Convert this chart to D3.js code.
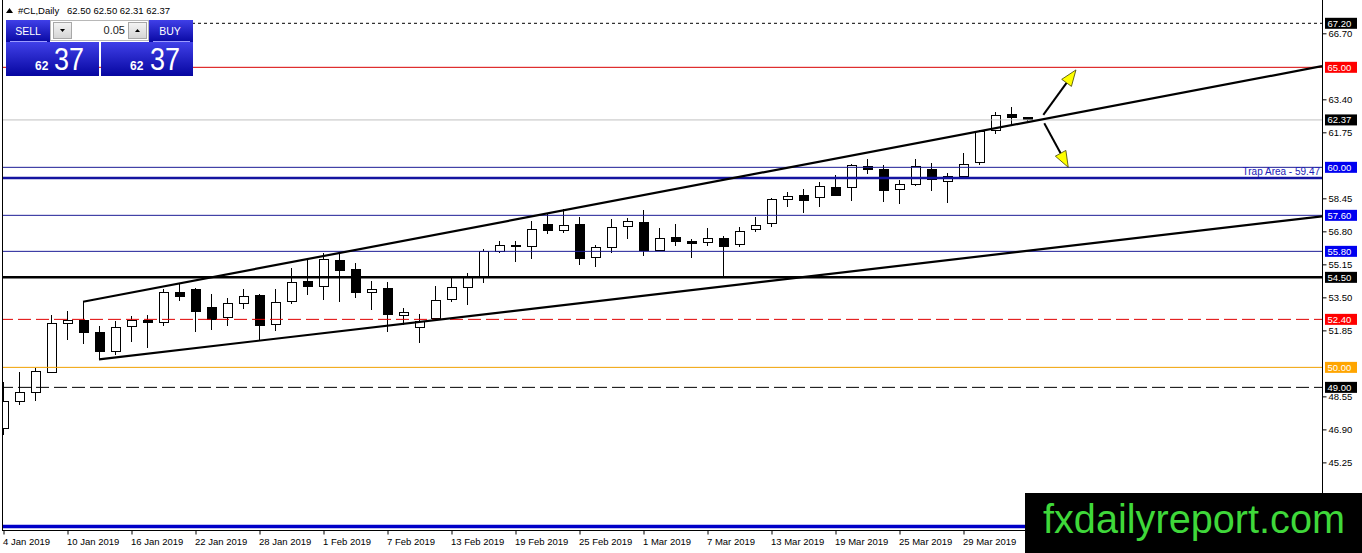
<!DOCTYPE html>
<html>
<head>
<meta charset="utf-8">
<script src="https://cdn.jsdelivr.net/npm/d3@7"></script>
<style>
body { margin: 0; background: #fff; overflow: hidden; }
svg { display: block; font-family: "Liberation Sans", Arial, sans-serif; }
</style>
</head>
<body>
<svg id="chart" width="1362" height="553"></svg>
<script>
// daily bars, #CL
var dates = ['4 Jan 2019','7 Jan 2019','8 Jan 2019','9 Jan 2019','10 Jan 2019','11 Jan 2019',
	'14 Jan 2019','15 Jan 2019','16 Jan 2019','17 Jan 2019','18 Jan 2019','21 Jan 2019','22 Jan 2019',
	'23 Jan 2019','24 Jan 2019','25 Jan 2019','28 Jan 2019','29 Jan 2019','30 Jan 2019','31 Jan 2019',
	'1 Feb 2019','4 Feb 2019','5 Feb 2019','6 Feb 2019','7 Feb 2019','8 Feb 2019','11 Feb 2019',
	'12 Feb 2019','13 Feb 2019','14 Feb 2019','15 Feb 2019','18 Feb 2019','19 Feb 2019','20 Feb 2019',
	'21 Feb 2019','22 Feb 2019','25 Feb 2019','26 Feb 2019','27 Feb 2019','28 Feb 2019','1 Mar 2019',
	'4 Mar 2019','5 Mar 2019','6 Mar 2019','7 Mar 2019','8 Mar 2019','11 Mar 2019','12 Mar 2019',
	'13 Mar 2019','14 Mar 2019','15 Mar 2019','18 Mar 2019','19 Mar 2019','20 Mar 2019','21 Mar 2019',
	'22 Mar 2019','25 Mar 2019','26 Mar 2019','27 Mar 2019','28 Mar 2019','29 Mar 2019','1 Apr 2019',
	'2 Apr 2019','3 Apr 2019','4 Apr 2019'];
var opens = [46.94,48.28,48.73,49.73,52.20,52.32,51.73,50.81,52.03,52.32,52.24,53.73,53.90,
	52.99,52.49,53.19,53.60,52.14,53.29,54.30,54.04,55.32,54.90,53.74,53.95,52.59,51.99,
	52.45,53.37,53.99,54.49,55.79,56.10,56.04,57.15,56.85,57.15,55.49,55.99,57.04,57.24,
	55.82,56.49,56.29,56.24,56.45,56.15,56.87,57.19,58.37,58.60,58.49,58.99,58.99,60.02,
	59.90,58.87,59.12,59.90,59.29,59.54,60.24,61.85,62.64,62.50];
var highs = [49.25,49.79,49.99,52.60,52.80,53.30,52.07,52.32,52.57,52.60,53.90,54.19,53.95,
	53.65,53.49,53.94,53.65,53.94,54.95,55.40,55.74,55.74,55.20,54.32,54.27,52.99,52.69,
	54.07,54.54,54.70,55.90,56.32,56.32,57.32,57.74,57.90,57.52,56.10,57.44,57.45,57.87,
	56.99,57.19,56.44,56.99,56.57,57.02,57.54,58.49,58.77,58.94,59.27,59.60,60.15,60.40,
	60.10,59.35,60.40,60.24,59.74,60.74,61.85,62.77,63.02,62.50];
var lows = [46.60,48.12,48.32,49.73,51.37,51.15,50.40,50.60,51.27,50.95,52.07,53.32,51.77,
	51.87,52.07,52.90,51.37,51.82,53.15,53.60,53.37,53.27,53.45,52.87,51.77,52.10,51.24,
	52.32,53.27,53.10,54.24,55.70,55.29,55.44,56.69,56.74,55.10,55.04,55.74,56.44,55.57,
	55.82,56.07,55.45,56.07,54.55,56.02,56.77,57.04,58.02,57.74,58.02,58.57,58.32,59.65,
	58.27,58.19,59.07,58.82,58.24,59.40,60.10,61.65,62.07,62.31];
var closes = [48.27,48.76,49.79,52.20,52.35,51.73,50.77,51.98,52.35,52.25,53.73,53.52,52.77,
	52.37,53.19,53.54,52.07,53.24,54.24,54.02,55.40,54.82,53.74,53.90,52.62,52.74,52.29,
	53.35,53.99,54.49,55.79,56.07,56.03,56.90,56.85,57.09,55.44,55.99,56.99,57.29,55.82,
	56.45,56.27,56.17,56.44,56.04,56.79,57.10,58.40,58.54,58.32,59.04,58.57,60.10,59.87,
	58.82,59.15,60.02,59.37,59.54,60.12,61.79,62.60,62.49,62.37];

var priceTicks = [66.70,65.05,63.40,61.75,60.10,58.45,56.80,55.15,53.50,51.85,50.20,48.55,46.90,45.25,43.60];
var levels = [67.20,65.00,62.37,60.00,59.47,57.60,55.80,54.50,52.40,50.00,49.00,42.05];
// trend lines: [bar index, price]
var upperTrend = [[5, 53.28], [82.44, 65.06]];
var lowerTrend = [[6, 50.40], [82.44, 57.55]];
var arrowUp = [[65.02, 62.62], [67.06, 64.87]];
var arrowDown = [[65.08, 62.20], [66.58, 60.00]];

var levelStyle = {
	'67.2':  {c: '#000', w: 1, dash: '3,3', box: '#000'},
	'65':    {c: '#d80000', w: 1, box: '#ff0000'},
	'62.37': {c: '#c0c0c0', w: 1, box: '#000'},
	'60':    {c: '#1c1c96', w: 1, box: '#0000f0'},
	'59.47': {c: '#1414a0', w: 2.5},
	'57.6':  {c: '#1c1c96', w: 1, box: '#0000f0'},
	'55.8':  {c: '#1c1c96', w: 1, box: '#0000f0'},
	'54.5':  {c: '#000', w: 2.5, box: '#000'},
	'52.4':  {c: '#e00000', w: 1, dash: '13,5', box: '#ff0000'},
	'50':    {c: '#f0a000', w: 1, box: '#ffa500'},
	'49':    {c: '#000', w: 1, dash: '13,5', box: '#000'},
	'42.05': {c: '#0000c8', w: 3.5}
};

var svg = d3.select('#chart');
var axisX = 1322, axisY = 530.5;
var markTop = 493, markLeft = 1025; // watermark box

var x = d3.scaleLinear().domain([0, 82.4375]).range([3, 1322]);
var y = d3.scaleLinear().domain([41.835, 68.365]).range([530.7, 0]);

var defs = svg.append('defs');
defs.append('clipPath').attr('id', 'plot').append('rect')
	.attr('x', 3).attr('y', 0).attr('width', axisX - 3).attr('height', axisY);
var grad = defs.append('linearGradient').attr('id', 'blue').attr('x1', 0).attr('x2', 0).attr('y1', 0).attr('y2', 1);
grad.append('stop').attr('offset', '0%').attr('stop-color', '#4040e8');
grad.append('stop').attr('offset', '100%').attr('stop-color', '#0606a0');
var grey = defs.append('linearGradient').attr('id', 'grey').attr('x1', 0).attr('x2', 0).attr('y1', 0).attr('y2', 1);
grey.append('stop').attr('offset', '0%').attr('stop-color', '#f4f4f4');
grey.append('stop').attr('offset', '100%').attr('stop-color', '#d4d4d4');

var plot = svg.append('g').attr('clip-path', 'url(#plot)');

// candles
var bars = d3.range(dates.length);
var cg = plot.append('g').attr('shape-rendering', 'crispEdges');
cg.selectAll('line.wick').data(bars).join('line')
	.attr('class', 'wick')
	.attr('x1', function(i) { return x(i) + 0.5; })
	.attr('x2', function(i) { return x(i) + 0.5; })
	.attr('y1', function(i) { return y(highs[i]); })
	.attr('y2', function(i) { return y(lows[i]); })
	.attr('stroke', '#000').attr('stroke-width', 1);
cg.selectAll('rect.body').data(bars).join('rect')
	.attr('class', 'body')
	.attr('x', function(i) { return x(i) - 4; })
	.attr('width', 9)
	.attr('y', function(i) { return y(Math.max(opens[i], closes[i])); })
	.attr('height', function(i) { return Math.max(1, Math.abs(y(opens[i]) - y(closes[i]))); })
	.attr('fill', function(i) { return closes[i] >= opens[i] ? '#fff' : '#000'; })
	.attr('stroke', '#000').attr('stroke-width', 1);

// horizontal levels
plot.selectAll('line.level').data(levels).join('line')
	.attr('class', 'level')
	.attr('x1', 0).attr('x2', axisX)
	.attr('y1', function(d) { return y(d); })
	.attr('y2', function(d) { return y(d); })
	.attr('stroke', function(d) { return levelStyle[String(d)].c; })
	.attr('stroke-width', function(d) { return levelStyle[String(d)].w; })
	.attr('stroke-dasharray', function(d) { return levelStyle[String(d)].dash || null; });

// trend lines
var line = d3.line().x(function(d) { return x(d[0]); }).y(function(d) { return y(d[1]); });
[upperTrend, lowerTrend].forEach(function(t) {
	plot.append('path').attr('d', line(t))
		.attr('fill', 'none').attr('stroke', '#000').attr('stroke-width', 2.2);
});

// arrows
[arrowUp, arrowDown].forEach(function(a) {
	var x0 = x(a[0][0]), y0 = y(a[0][1]), x1 = x(a[1][0]), y1 = y(a[1][1]);
	var ang = Math.atan2(y1 - y0, x1 - x0);
	var len = 16, hw = 6;
	var bx = x1 - len * Math.cos(ang), by = y1 - len * Math.sin(ang);
	plot.append('line').attr('x1', x0).attr('y1', y0).attr('x2', bx).attr('y2', by)
		.attr('stroke', '#000').attr('stroke-width', 2);
	var pts = [[x1, y1],
		[bx + hw * Math.sin(ang), by - hw * Math.cos(ang)],
		[bx - hw * Math.sin(ang), by + hw * Math.cos(ang)]];
	plot.append('polygon').attr('points', pts.map(function(p) { return p.join(','); }).join(' '))
		.attr('fill', '#ffff00').attr('stroke', '#404000').attr('stroke-width', 0.8);
});

plot.append('text').attr('x', axisX - 2).attr('y', y(59.47) - 3)
	.attr('text-anchor', 'end').attr('font-size', '10px').attr('fill', '#2020b4')
	.text('Trap Area - 59.47');

// frame
svg.append('line').attr('x1', 2.5).attr('x2', 2.5).attr('y1', 0).attr('y2', axisY)
	.attr('stroke', '#000');

// price axis (labels hidden by level boxes or the watermark are dropped)
var labelled = levels.filter(function(d) { return levelStyle[String(d)].box; });
var shown = priceTicks.filter(function(t) {
	return y(t) < markTop - 4 && labelled.every(function(l) { return Math.abs(y(t) - y(l)) > 6; });
});
var yAxis = d3.axisRight(y).tickValues(shown).tickFormat(d3.format('.2f')).tickSize(4).tickPadding(2);
var ya = svg.append('g').attr('transform', 'translate(' + (axisX + 0.5) + ',0)').call(yAxis);
ya.select('.domain').remove();
ya.selectAll('text').attr('font-size', '9.5px').attr('font-family', '"Liberation Sans", Arial, sans-serif').attr('fill', '#000');
svg.append('line').attr('x1', axisX + 0.5).attr('x2', axisX + 0.5).attr('y1', 0).attr('y2', axisY)
	.attr('stroke', '#000');

var lb = svg.selectAll('g.lvl').data(labelled).join('g').attr('class', 'lvl')
	.attr('transform', function(d) { return 'translate(' + (axisX + 3) + ',' + y(d) + ')'; });
lb.append('rect').attr('x', 0).attr('y', -5.5).attr('width', 32).attr('height', 11)
	.attr('fill', function(d) { return levelStyle[String(d)].box; });
lb.append('text').attr('x', 2.5).attr('y', 3.5).attr('font-size', '9.5px').attr('fill', '#fff')
	.text(function(d) { return d.toFixed(2); });

// time axis
var timeTicks = d3.range(0, dates.length, 4).filter(function(i) { return x(i) < markLeft - 10; });
var xAxis = d3.axisBottom(x).tickValues(timeTicks)
	.tickFormat(function(i) { return dates[i]; }).tickSize(4).tickPadding(4);
var xa = svg.append('g').attr('transform', 'translate(0.5,' + axisY + ')').call(xAxis);
xa.select('.domain').remove();
xa.selectAll('text').attr('text-anchor', 'start').attr('x', -1)
	.attr('font-size', '9.5px').attr('font-family', '"Liberation Sans", Arial, sans-serif').attr('fill', '#000');
svg.append('line').attr('x1', 2).attr('x2', axisX + 1).attr('y1', axisY).attr('y2', axisY)
	.attr('stroke', '#000');

// header
svg.append('path').attr('d', 'M6,13 L9.5,8 L13,13 Z').attr('fill', '#000');
svg.append('text').attr('x', 18).attr('y', 14).attr('font-size', '9.5px').text('#CL,Daily');
svg.append('text').attr('x', 67).attr('y', 14).attr('font-size', '9.5px').text('62.50 62.50 62.31 62.37');

// one click panel
var p = svg.append('g');
p.append('rect').attr('x', 6).attr('y', 20).attr('width', 44).attr('height', 23).attr('fill', 'url(#blue)');
p.append('rect').attr('x', 149).attr('y', 20).attr('width', 44).attr('height', 23).attr('fill', 'url(#blue)');
p.append('rect').attr('x', 6).attr('y', 42).attr('width', 93).attr('height', 34).attr('fill', 'url(#blue)');
p.append('rect').attr('x', 101).attr('y', 42).attr('width', 92).attr('height', 34).attr('fill', 'url(#blue)');
p.append('line').attr('x1', 10).attr('x2', 47).attr('y1', 41.5).attr('y2', 41.5).attr('stroke', '#9a9aff').attr('stroke-width', 1);
p.append('line').attr('x1', 153).attr('x2', 190).attr('y1', 41.5).attr('y2', 41.5).attr('stroke', '#9a9aff').attr('stroke-width', 1);
p.append('rect').attr('x', 50.5).attr('y', 20.5).attr('width', 98).attr('height', 20).attr('fill', '#fff').attr('stroke', '#b8b8b8');
p.append('rect').attr('x', 53.5).attr('y', 22.5).attr('width', 18).attr('height', 16).attr('fill', 'url(#grey)').attr('stroke', '#a8a8a8');
p.append('rect').attr('x', 128.5).attr('y', 22.5).attr('width', 18).attr('height', 16).attr('fill', 'url(#grey)').attr('stroke', '#a8a8a8');
p.append('path').attr('d', 'M60,29 L65,29 L62.5,32 Z').attr('fill', '#000');
p.append('path').attr('d', 'M135,32 L140,32 L137.5,29 Z').attr('fill', '#000');
p.append('text').attr('x', 125).attr('y', 34).attr('text-anchor', 'end').attr('font-size', '11px').attr('fill', '#222').text('0.05');
p.append('text').attr('x', 28).attr('y', 35).attr('text-anchor', 'middle').attr('font-size', '10.5px').attr('fill', '#fff').text('SELL');
p.append('text').attr('x', 170).attr('y', 35).attr('text-anchor', 'middle').attr('font-size', '10.5px').attr('fill', '#fff').text('BUY');
[[35, 54], [130, 150]].forEach(function(q) {
	p.append('text').attr('x', q[0]).attr('y', 69.5).attr('font-size', '12px').attr('font-weight', 'bold')
		.attr('fill', '#fff').text('62');
	p.append('text').attr('x', q[1]).attr('y', 70).attr('font-size', '32px').attr('fill', '#fff')
		.attr('textLength', 30).attr('lengthAdjust', 'spacingAndGlyphs').text('37');
});

// watermark
svg.append('rect').attr('x', markLeft).attr('y', markTop).attr('width', 1362 - markLeft).attr('height', 553 - markTop).attr('fill', '#000');
svg.append('text').attr('x', 1043).attr('y', 533).attr('font-size', '40px').attr('fill', '#3fd83a')
	.attr('textLength', 302).attr('lengthAdjust', 'spacingAndGlyphs').text('fxdailyreport.com');
</script>
</body>
</html>
